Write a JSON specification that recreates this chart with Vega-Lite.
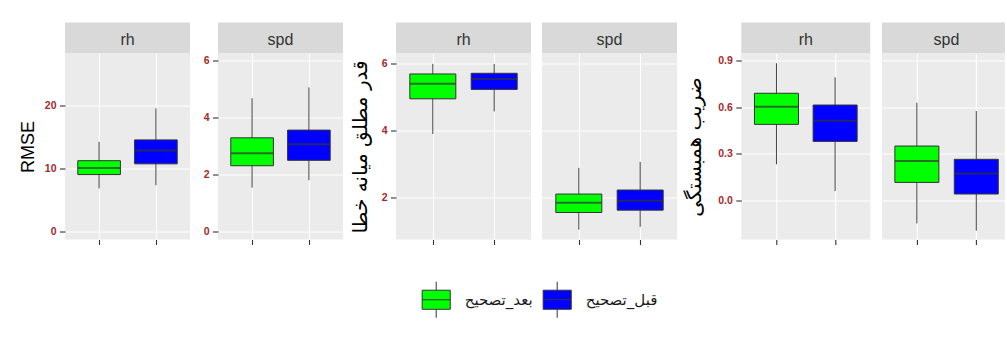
{
  "$schema": "https://vega.github.io/schema/vega-lite/v6.json",
  "padding": {"left": 19, "top": 22.5, "right": 0, "bottom": 4},
  "background": "white",
  "data": {"values": [
    {"metric": "rmse", "var": "rh", "grp": "بعد_تصحیح", "lo": 6.8, "q1": 9.0, "med": 10.05, "q3": 11.2, "hi": 14.2},
    {"metric": "rmse", "var": "rh", "grp": "قبل_تصحیح", "lo": 7.3, "q1": 10.7, "med": 12.8, "q3": 14.5, "hi": 19.5},
    {"metric": "rmse", "var": "spd", "grp": "بعد_تصحیح", "lo": 1.53, "q1": 2.30, "med": 2.74, "q3": 3.28, "hi": 4.67},
    {"metric": "rmse", "var": "spd", "grp": "قبل_تصحیح", "lo": 1.79, "q1": 2.49, "med": 3.05, "q3": 3.55, "hi": 5.05},
    {"metric": "mae", "var": "rh", "grp": "بعد_تصحیح", "lo": 3.89, "q1": 4.94, "med": 5.39, "q3": 5.68, "hi": 5.98},
    {"metric": "mae", "var": "rh", "grp": "قبل_تصحیح", "lo": 4.56, "q1": 5.22, "med": 5.53, "q3": 5.70, "hi": 5.98},
    {"metric": "mae", "var": "spd", "grp": "بعد_تصحیح", "lo": 1.04, "q1": 1.55, "med": 1.84, "q3": 2.10, "hi": 2.88},
    {"metric": "mae", "var": "spd", "grp": "قبل_تصحیح", "lo": 1.12, "q1": 1.62, "med": 1.90, "q3": 2.22, "hi": 3.06},
    {"metric": "r", "var": "rh", "grp": "بعد_تصحیح", "lo": 0.231, "q1": 0.489, "med": 0.603, "q3": 0.69, "hi": 0.884},
    {"metric": "r", "var": "rh", "grp": "قبل_تصحیح", "lo": 0.058, "q1": 0.379, "med": 0.513, "q3": 0.614, "hi": 0.793},
    {"metric": "r", "var": "spd", "grp": "بعد_تصحیح", "lo": -0.151, "q1": 0.114, "med": 0.252, "q3": 0.349, "hi": 0.629},
    {"metric": "r", "var": "spd", "grp": "قبل_تصحیح", "lo": -0.198, "q1": 0.039, "med": 0.172, "q3": 0.263, "hi": 0.575}
  ]},
  "spacing": 6.3,
  "bounds": "full",
  "resolve": {"scale": {"x": "independent", "y": "independent"}, "axis": {"x": "independent", "y": "independent"}},
  "hconcat": [
    {
      "spacing": 7,
      "bounds": "full",
      "resolve": {"scale": {"x": "independent", "y": "independent"}, "axis": {"x": "independent", "y": "independent"}},
      "hconcat": [
        {
          "spacing": 12,
          "bounds": "full",
          "resolve": {"scale": {"x": "independent", "y": "independent"}, "axis": {"x": "independent", "y": "independent"}},
          "hconcat": [
            {
              "spacing": 0, "bounds": "flush",
              "vconcat": [
                {"width": 125, "height": 31, "view": {"fill": "#D9D9D9", "stroke": null},
                 "transform": [{"filter": "datum.metric === 'rmse' && datum.var === 'rh' && datum.grp === 'بعد_تصحیح'"}],
                 "mark": {"type": "text", "font": "Liberation Sans", "fontSize": 16, "color": "#333333", "dy": 2},
                 "encoding": {"text": {"field": "var"}}},
                {"width": 125, "height": 186, "view": {"fill": "#EBEBEB", "stroke": null},
                 "transform": [{"filter": "datum.metric === 'rmse' && datum.var === 'rh'"}],
                 "resolve": {"axis": {"y": "independent"}},
                 "encoding": {"x": {"field": "grp", "type": "nominal", "title": null,
                   "scale": {"type": "point", "domain": ["بعد_تصحیح", "قبل_تصحیح"], "padding": 0.6},
                   "axis": {"labels": false, "grid": true, "gridColor": "white", "gridWidth": 1.1, "tickSize": 5, "domain": false}}},
                 "layer": [
                   {"mark": {"type": "rule", "color": "#444444", "strokeWidth": 1},
                    "encoding": {"y": {"field": "lo", "type": "quantitative", "title": "RMSE",
                      "scale": {"domain": [-1.3, 28.2], "nice": false, "zero": false},
                      "axis": {"values": [0, 10, 20], "minExtent": 21.7, "maxExtent": 21.7, "titlePadding": 5.5,
                        "titleFont": "Liberation Sans", "titleFontSize": 18, "gridWidth": 1.1}},
                      "y2": {"field": "hi"}}},
                   {"mark": {"type": "bar", "size": 42.6, "stroke": "#333333", "strokeWidth": 1},
                    "encoding": {"y": {"field": "q1", "type": "quantitative", "title": null,
                      "axis": {"orient": "right", "values": [5, 15, 25], "labels": false, "ticks": false, "gridWidth": 0.55, "minExtent": 0, "maxExtent": 0}},
                      "y2": {"field": "q3"},
                      "color": {"field": "grp", "type": "nominal",
                        "scale": {"domain": ["بعد_تصحیح", "قبل_تصحیح"], "range": ["#00FF00", "#0000FF"]},
                        "legend": {"title": null, "orient": "none", "legendX": 352.7, "legendY": 258.5, "direction": "horizontal"}}}},
                   {"mark": {"type": "tick", "size": 42.6, "thickness": 2, "color": "#333333"},
                    "encoding": {"y": {"field": "med", "type": "quantitative", "axis": null}}}
                 ]}
              ]
            },
            {
              "spacing": 0, "bounds": "flush",
              "vconcat": [
                {"width": 125, "height": 31, "view": {"fill": "#D9D9D9", "stroke": null},
                 "transform": [{"filter": "datum.metric === 'rmse' && datum.var === 'spd' && datum.grp === 'بعد_تصحیح'"}],
                 "mark": {"type": "text", "font": "Liberation Sans", "fontSize": 16, "color": "#333333", "dy": 2},
                 "encoding": {"text": {"field": "var"}}},
                {"width": 125, "height": 186, "view": {"fill": "#EBEBEB", "stroke": null},
                 "transform": [{"filter": "datum.metric === 'rmse' && datum.var === 'spd'"}],
                 "resolve": {"axis": {"y": "independent"}},
                 "encoding": {"x": {"field": "grp", "type": "nominal", "title": null,
                   "scale": {"type": "point", "domain": ["بعد_تصحیح", "قبل_تصحیح"], "padding": 0.6},
                   "axis": {"labels": false, "grid": true, "gridColor": "white", "gridWidth": 1.1, "tickSize": 5, "domain": false}}},
                 "layer": [
                   {"mark": {"type": "rule", "color": "#444444", "strokeWidth": 1},
                    "encoding": {"y": {"field": "lo", "type": "quantitative", "title": null,
                      "scale": {"domain": [-0.29, 6.24], "nice": false, "zero": false},
                      "axis": {"values": [0, 2, 4, 6], "minExtent": 15.7, "maxExtent": 15.7, "gridWidth": 1.1}},
                      "y2": {"field": "hi"}}},
                   {"mark": {"type": "bar", "size": 42.6, "stroke": "#333333", "strokeWidth": 1},
                    "encoding": {"y": {"field": "q1", "type": "quantitative", "title": null,
                      "axis": {"orient": "right", "values": [1, 3, 5], "labels": false, "ticks": false, "gridWidth": 0.55, "minExtent": 0, "maxExtent": 0}},
                      "y2": {"field": "q3"},
                      "color": {"field": "grp", "type": "nominal",
                        "scale": {"domain": ["بعد_تصحیح", "قبل_تصحیح"], "range": ["#00FF00", "#0000FF"]},
                        "legend": {"title": null, "orient": "none", "legendX": 352.7, "legendY": 258.5, "direction": "horizontal"}}}},
                   {"mark": {"type": "tick", "size": 42.6, "thickness": 2, "color": "#333333"},
                    "encoding": {"y": {"field": "med", "type": "quantitative", "axis": null}}}
                 ]}
              ]
            }
          ]
        },
        {
          "spacing": 11,
          "bounds": "full",
          "resolve": {"scale": {"x": "independent", "y": "independent"}, "axis": {"x": "independent", "y": "independent"}},
          "hconcat": [
            {
              "spacing": 0, "bounds": "flush",
              "vconcat": [
                {"width": 135, "height": 31, "view": {"fill": "#D9D9D9", "stroke": null},
                 "transform": [{"filter": "datum.metric === 'mae' && datum.var === 'rh' && datum.grp === 'بعد_تصحیح'"}],
                 "mark": {"type": "text", "font": "Liberation Sans", "fontSize": 16, "color": "#333333", "dy": 2},
                 "encoding": {"text": {"field": "var"}}},
                {"width": 135, "height": 186, "view": {"fill": "#EBEBEB", "stroke": null},
                 "transform": [{"filter": "datum.metric === 'mae' && datum.var === 'rh'"}],
                 "resolve": {"axis": {"y": "independent"}},
                 "encoding": {"x": {"field": "grp", "type": "nominal", "title": null,
                   "scale": {"type": "point", "domain": ["بعد_تصحیح", "قبل_تصحیح"], "padding": 0.6},
                   "axis": {"labels": false, "grid": true, "gridColor": "white", "gridWidth": 1.1, "tickSize": 5, "domain": false}}},
                 "layer": [
                   {"mark": {"type": "rule", "color": "#444444", "strokeWidth": 1},
                    "encoding": {"y": {"field": "lo", "type": "quantitative", "title": "قدر مطلق میانه خطا",
                      "scale": {"domain": [0.745, 6.29], "nice": false, "zero": false},
                      "axis": {"values": [2, 4, 6], "minExtent": 17.4, "maxExtent": 17.4, "titlePadding": 8.3,
                        "titleFont": "DejaVu Sans", "titleFontSize": 20, "gridWidth": 1.1}},
                      "y2": {"field": "hi"}}},
                   {"mark": {"type": "bar", "size": 46, "stroke": "#333333", "strokeWidth": 1},
                    "encoding": {"y": {"field": "q1", "type": "quantitative", "title": null,
                      "axis": {"orient": "right", "values": [1, 3, 5], "labels": false, "ticks": false, "gridWidth": 0.55, "minExtent": 0, "maxExtent": 0}},
                      "y2": {"field": "q3"},
                      "color": {"field": "grp", "type": "nominal",
                        "scale": {"domain": ["بعد_تصحیح", "قبل_تصحیح"], "range": ["#00FF00", "#0000FF"]},
                        "legend": {"title": null, "orient": "none", "legendX": 352.7, "legendY": 258.5, "direction": "horizontal"}}}},
                   {"mark": {"type": "tick", "size": 46, "thickness": 2, "color": "#333333"},
                    "encoding": {"y": {"field": "med", "type": "quantitative", "axis": null}}}
                 ]}
              ]
            },
            {
              "spacing": 0, "bounds": "flush",
              "vconcat": [
                {"width": 135, "height": 31, "view": {"fill": "#D9D9D9", "stroke": null},
                 "transform": [{"filter": "datum.metric === 'mae' && datum.var === 'spd' && datum.grp === 'بعد_تصحیح'"}],
                 "mark": {"type": "text", "font": "Liberation Sans", "fontSize": 16, "color": "#333333", "dy": 2},
                 "encoding": {"text": {"field": "var"}}},
                {"width": 135, "height": 186, "view": {"fill": "#EBEBEB", "stroke": null},
                 "transform": [{"filter": "datum.metric === 'mae' && datum.var === 'spd'"}],
                 "resolve": {"axis": {"y": "independent"}},
                 "encoding": {"x": {"field": "grp", "type": "nominal", "title": null,
                   "scale": {"type": "point", "domain": ["بعد_تصحیح", "قبل_تصحیح"], "padding": 0.6},
                   "axis": {"labels": false, "grid": true, "gridColor": "white", "gridWidth": 1.1, "tickSize": 5, "domain": false}}},
                 "layer": [
                   {"mark": {"type": "rule", "color": "#444444", "strokeWidth": 1},
                    "encoding": {"y": {"field": "lo", "type": "quantitative", "title": null,
                      "scale": {"domain": [0.745, 6.29], "nice": false, "zero": false},
                      "axis": {"values": [2, 4, 6], "labels": false, "ticks": false, "minExtent": 0, "maxExtent": 0, "gridWidth": 1.1}},
                      "y2": {"field": "hi"}}},
                   {"mark": {"type": "bar", "size": 46, "stroke": "#333333", "strokeWidth": 1},
                    "encoding": {"y": {"field": "q1", "type": "quantitative", "title": null,
                      "axis": {"orient": "right", "values": [1, 3, 5], "labels": false, "ticks": false, "gridWidth": 0.55, "minExtent": 0, "maxExtent": 0}},
                      "y2": {"field": "q3"},
                      "color": {"field": "grp", "type": "nominal",
                        "scale": {"domain": ["بعد_تصحیح", "قبل_تصحیح"], "range": ["#00FF00", "#0000FF"]},
                        "legend": {"title": null, "orient": "none", "legendX": 352.7, "legendY": 258.5, "direction": "horizontal"}}}},
                   {"mark": {"type": "tick", "size": 46, "thickness": 2, "color": "#333333"},
                    "encoding": {"y": {"field": "med", "type": "quantitative", "axis": null}}}
                 ]}
              ]
            }
          ]
        }
      ]
    },
    {
      "spacing": 11.6,
      "bounds": "full",
      "resolve": {"scale": {"x": "independent", "y": "independent"}, "axis": {"x": "independent", "y": "independent"}},
      "hconcat": [
        {
          "spacing": 0, "bounds": "flush",
          "vconcat": [
            {"width": 129, "height": 31, "view": {"fill": "#D9D9D9", "stroke": null},
             "transform": [{"filter": "datum.metric === 'r' && datum.var === 'rh' && datum.grp === 'بعد_تصحیح'"}],
             "mark": {"type": "text", "font": "Liberation Sans", "fontSize": 16, "color": "#333333", "dy": 2},
             "encoding": {"text": {"field": "var"}}},
            {"width": 129, "height": 186, "view": {"fill": "#EBEBEB", "stroke": null},
             "transform": [{"filter": "datum.metric === 'r' && datum.var === 'rh'"}],
             "resolve": {"axis": {"y": "independent"}},
             "encoding": {"x": {"field": "grp", "type": "nominal", "title": null,
               "scale": {"type": "point", "domain": ["بعد_تصحیح", "قبل_تصحیح"], "padding": 0.6},
               "axis": {"labels": false, "grid": true, "gridColor": "white", "gridWidth": 1.1, "tickSize": 5, "domain": false}}},
             "layer": [
               {"mark": {"type": "rule", "color": "#444444", "strokeWidth": 1},
                "encoding": {"y": {"field": "lo", "type": "quantitative", "title": "ضریب همبستگی",
                  "scale": {"domain": [-0.255, 0.947], "nice": false, "zero": false},
                  "axis": {"values": [0, 0.3, 0.6, 0.9], "format": ".1f", "minExtent": 27.3, "maxExtent": 27.3, "titlePadding": 10,
                    "titleFont": "DejaVu Sans", "titleFontSize": 20, "gridWidth": 1.1}},
                  "y2": {"field": "hi"}}},
               {"mark": {"type": "bar", "size": 44, "stroke": "#333333", "strokeWidth": 1},
                "encoding": {"y": {"field": "q1", "type": "quantitative", "title": null,
                  "axis": {"orient": "right", "values": [-0.15, 0.15, 0.45, 0.75], "labels": false, "ticks": false, "gridWidth": 0.55, "minExtent": 0, "maxExtent": 0}},
                  "y2": {"field": "q3"},
                  "color": {"field": "grp", "type": "nominal",
                    "scale": {"domain": ["بعد_تصحیح", "قبل_تصحیح"], "range": ["#00FF00", "#0000FF"]},
                    "legend": {"title": null, "orient": "none", "legendX": 352.7, "legendY": 258.5, "direction": "horizontal"}}}},
               {"mark": {"type": "tick", "size": 44, "thickness": 2, "color": "#333333"},
                "encoding": {"y": {"field": "med", "type": "quantitative", "axis": null}}}
             ]}
          ]
        },
        {
          "spacing": 0, "bounds": "flush",
          "vconcat": [
            {"width": 123, "height": 31, "view": {"fill": "#D9D9D9", "stroke": null},
             "transform": [{"filter": "datum.metric === 'r' && datum.var === 'spd' && datum.grp === 'بعد_تصحیح'"}],
             "mark": {"type": "text", "font": "Liberation Sans", "fontSize": 16, "color": "#333333", "dy": 2, "dx": 3},
             "encoding": {"text": {"field": "var"}}},
            {"width": 123, "height": 186, "view": {"fill": "#EBEBEB", "stroke": null},
             "transform": [{"filter": "datum.metric === 'r' && datum.var === 'spd'"}],
             "resolve": {"axis": {"y": "independent"}},
             "encoding": {"x": {"field": "grp", "type": "nominal", "title": null,
               "scale": {"type": "point", "domain": ["بعد_تصحیح", "قبل_تصحیح"], "padding": 0.535, "align": 0.55},
               "axis": {"labels": false, "grid": true, "gridColor": "white", "gridWidth": 1.1, "tickSize": 5, "domain": false}}},
             "layer": [
               {"mark": {"type": "rule", "color": "#444444", "strokeWidth": 1},
                "encoding": {"y": {"field": "lo", "type": "quantitative", "title": null,
                  "scale": {"domain": [-0.255, 0.947], "nice": false, "zero": false},
                  "axis": {"values": [0, 0.3, 0.6, 0.9], "labels": false, "ticks": false, "minExtent": 0, "maxExtent": 0, "gridWidth": 1.1}},
                  "y2": {"field": "hi"}}},
               {"mark": {"type": "bar", "size": 44, "stroke": "#333333", "strokeWidth": 1},
                "encoding": {"y": {"field": "q1", "type": "quantitative", "title": null,
                  "axis": {"orient": "right", "values": [-0.15, 0.15, 0.45, 0.75], "labels": false, "ticks": false, "gridWidth": 0.55, "minExtent": 0, "maxExtent": 0}},
                  "y2": {"field": "q3"},
                  "color": {"field": "grp", "type": "nominal",
                    "scale": {"domain": ["بعد_تصحیح", "قبل_تصحیح"], "range": ["#00FF00", "#0000FF"]},
                    "legend": {"title": null, "orient": "none", "legendX": 352.7, "legendY": 258.5, "direction": "horizontal"}}}},
               {"mark": {"type": "tick", "size": 44, "thickness": 2, "color": "#333333"},
                "encoding": {"y": {"field": "med", "type": "quantitative", "axis": null}}}
             ]}
          ]
        }
      ]
    }
  ],
  "config": {
    "font": "Liberation Sans",
    "view": {"stroke": null},
    "axis": {
      "domain": false,
      "tickColor": "#333333",
      "tickWidth": 1.1,
      "tickSize": 5.5,
      "labelFont": "Liberation Sans",
      "labelFontWeight": "bold",
      "labelFontSize": 10.5,
      "labelColor": "#A52A2A",
      "labelPadding": 3.5,
      "gridColor": "white",
      "titleFontWeight": "normal",
      "titleColor": "black"
    },
    "legend": {
      "symbolType": "M-0.78,-0.53H0.78V0.53H-0.78Z M-0.78,0H0.78 M0,-0.53V-1 M0,0.53V1",
      "symbolSize": 1296,
      "symbolStrokeColor": "#333333",
      "symbolStrokeWidth": 1,
      "symbolOpacity": 1,
      "labelFont": "DejaVu Sans",
      "labelFontSize": 15,
      "labelColor": "#1a1a1a",
      "labelOffset": 10,
      "columnPadding": 6,
      "padding": 0
    }
  }
}
